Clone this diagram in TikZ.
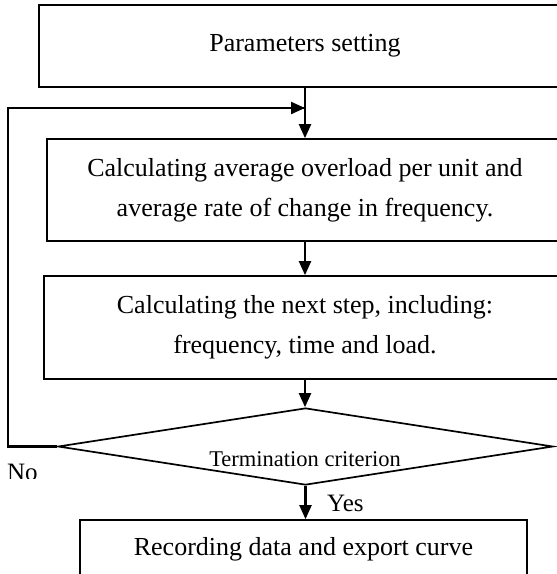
\documentclass[tikz,border=0pt]{standalone}
\usepackage{fontspec}
\setmainfont{Liberation Serif}
\usetikzlibrary{shapes.geometric,arrows.meta}
\begin{document}
\begin{tikzpicture}[x=1pt,y=-1pt,
  box/.style={draw,line width=1.7pt,rectangle,inner sep=0pt,align=center,font=\fontsize{26}{40}\selectfont},
  arr/.style={line width=2.2pt,-{Triangle[length=14pt,width=12pt]}},
  lbl/.style={font=\fontsize{25}{28}\selectfont,inner sep=0pt}]
\useasboundingbox (0,0) rectangle (557,574);
\clip (0,0) rectangle (557,574);
\node[box,minimum width=532pt,minimum height=82pt] (b1) at (305,46) {Parameters setting};
\node[box,minimum width=516pt,minimum height=102pt] (b2) at (305,190) {Calculating average overload per unit and\\average rate of change in frequency.};
\node[box,minimum width=522pt,minimum height=103pt] (b3) at (305,327.5) {Calculating the next step, including:\\frequency, time and load.};
\node[draw,diamond,line width=1.7pt,inner sep=0pt,minimum width=495pt,minimum height=77pt] (d) at (305.5,446.5) {};
\node[lbl,font=\fontsize{22.5}{26}\selectfont] (dt) at (305,459) {Termination criterion};
\node[box,minimum width=447pt,minimum height=58pt] (b4) at (303.5,549) {Recording data and export curve};
\coordinate (lc) at (8,446.5);
\coordinate (lt) at (8,108);
\coordinate (join) at (b1.south |- lt);
\draw[arr] (b1.south) -- (b2.north);
\draw[arr] (b2.south) -- (b3.north);
\draw[arr] (b3.south) -- (b3.south |- d.north);
\draw[arr] (d.south) -- (d.south |- b4.north);
\draw[line width=2.2pt] (d.west) -- (lc) -- (lt) -- (join);
\draw[arr] (lt) -- (join);
\node[lbl,anchor=base west] (yes) at (327,511) {Yes};
\begin{scope}
\clip (0,0) rectangle (60,478);
\node[lbl,anchor=base west] (no) at (7,480) {No};
\end{scope}
\end{tikzpicture}
\end{document}
